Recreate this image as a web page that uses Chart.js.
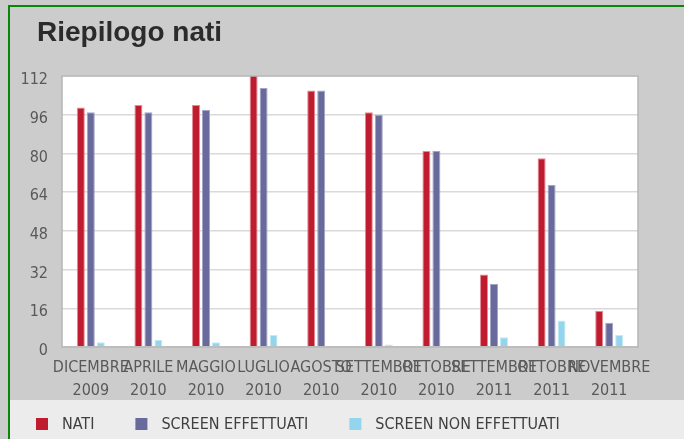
<!DOCTYPE html>
<html><head><meta charset="utf-8">
<script src="https://cdn.jsdelivr.net/npm/chart.js@4/dist/chart.umd.min.js"></script>
<style>html,body{margin:0;padding:0;background:#cccccc;}#wrap{width:684px;height:439px;position:relative;}</style>
</head><body><div id="wrap"><canvas id="c" width="684" height="439"></canvas></div>
<script>
const titleText = 'Riepilogo nati';
const categories = [
  ['DICEMBRE','2009'],['APRILE','2010'],['MAGGIO','2010'],['LUGLIO','2010'],['AGOSTO','2010'],
  ['SETTEMBRE','2010'],['OTTOBRE','2010'],['SETTEMBRE','2011'],['OTTOBRE','2011'],['NOVEMBRE','2011']
];
const nati =              [99, 100, 100, 114, 106, 97, 81, 30, 78, 15];
const screenEffettuati =  [97, 97, 98, 107, 106, 96, 81, 26, 67, 10];
const screenNonEffettuati = [2, 3, 2, 5, 0, 1, 0, 4, 11, 5];
const seriesNames = ['NATI','SCREEN EFFETTUATI','SCREEN NON EFFETTUATI'];
const seriesColors = ['#c01c2f','#686a9b','#93d5ec'];
const seriesBorders = ['#e58b95','#a3a5c6','#c5e9f5'];
const yMin = 0, yMax = 112, yStep = 16;

const FONT = "'Liberation Sans Narrow','DejaVu Sans Condensed','Liberation Sans',sans-serif";

const frame = {
  id: 'frame',
  beforeDraw(chart) {
    const ctx = chart.ctx, a = chart.chartArea;
    ctx.save();
    ctx.fillStyle = '#cccccc';
    ctx.fillRect(0, 0, 684, 439);
    ctx.fillStyle = '#ececec';
    ctx.fillRect(10, 400, 674, 39);
    ctx.fillStyle = '#0a870a';
    ctx.fillRect(8, 5, 676, 2);
    ctx.fillRect(8, 5, 2, 434);
    ctx.fillStyle = '#ffffff';
    ctx.fillRect(a.left, a.top, a.right - a.left, a.bottom - a.top);
    ctx.restore();
  },
  afterDatasetsDraw(chart) {
    const ctx = chart.ctx, a = chart.chartArea;
    ctx.save();
    ctx.strokeStyle = '#b5b5b5';
    ctx.lineWidth = 1.5;
    ctx.strokeRect(a.left, a.top, a.right - a.left, a.bottom - a.top);
    ctx.restore();
  },
  afterDraw(chart) {
    const ctx = chart.ctx;
    ctx.save();
    ctx.fillStyle = '#2b2b2b';
    ctx.font = "bold 28px 'Liberation Sans','DejaVu Sans',sans-serif";
    ctx.textBaseline = 'alphabetic';
    ctx.textAlign = 'left';
    ctx.fillText(titleText, 37, 41, 189);
    // legend
    ctx.font = '16px ' + FONT;
    ctx.textBaseline = 'middle';
    let x = 36;
    chart.data.datasets.forEach((ds) => {
      ctx.fillStyle = ds.backgroundColor;
      ctx.fillRect(x, 418, 12, 12);
      ctx.fillStyle = '#404040';
      ctx.fillText(ds.label, x + 26, 425);
      x = x + 26 + ctx.measureText(ds.label).width + 41;
    });
    ctx.restore();
  }
};

const datasets = [nati, screenEffettuati, screenNonEffettuati].map((d, i) => ({
  label: seriesNames[i],
  data: d,
  backgroundColor: seriesColors[i],
  borderColor: seriesBorders[i],
  borderWidth: 1,
  categoryPercentage: 0.52,
  barPercentage: 0.8
}));

new Chart(document.getElementById('c'), {
  type: 'bar',
  data: { labels: categories, datasets },
  options: {
    responsive: false,
    animation: false,
    layout: { padding: { left: 0, top: 76, right: 46, bottom: 0 } },
    plugins: { legend: { display: false }, title: { display: false }, tooltip: { enabled: false } },
    scales: {
      x: {
        grid: { display: false, drawTicks: false },
        border: { display: false },
        ticks: { autoSkip: false, maxRotation: 0, minRotation: 0, color: '#595959',
                 font: { family: FONT, size: 16, lineHeight: 1.45 }, padding: 9 },
        afterFit(s) { s.height = 92; }
      },
      y: {
        min: yMin, max: yMax,
        grid: { color: '#d9d9d9', lineWidth: 1.5, drawTicks: false },
        border: { display: false },
        ticks: { stepSize: yStep, color: '#595959', font: { family: FONT, size: 16 }, padding: 14, labelOffset: 4 },
        afterFit(s) { s.width = 62; }
      }
    }
  },
  plugins: [frame]
});
</script></body></html>
